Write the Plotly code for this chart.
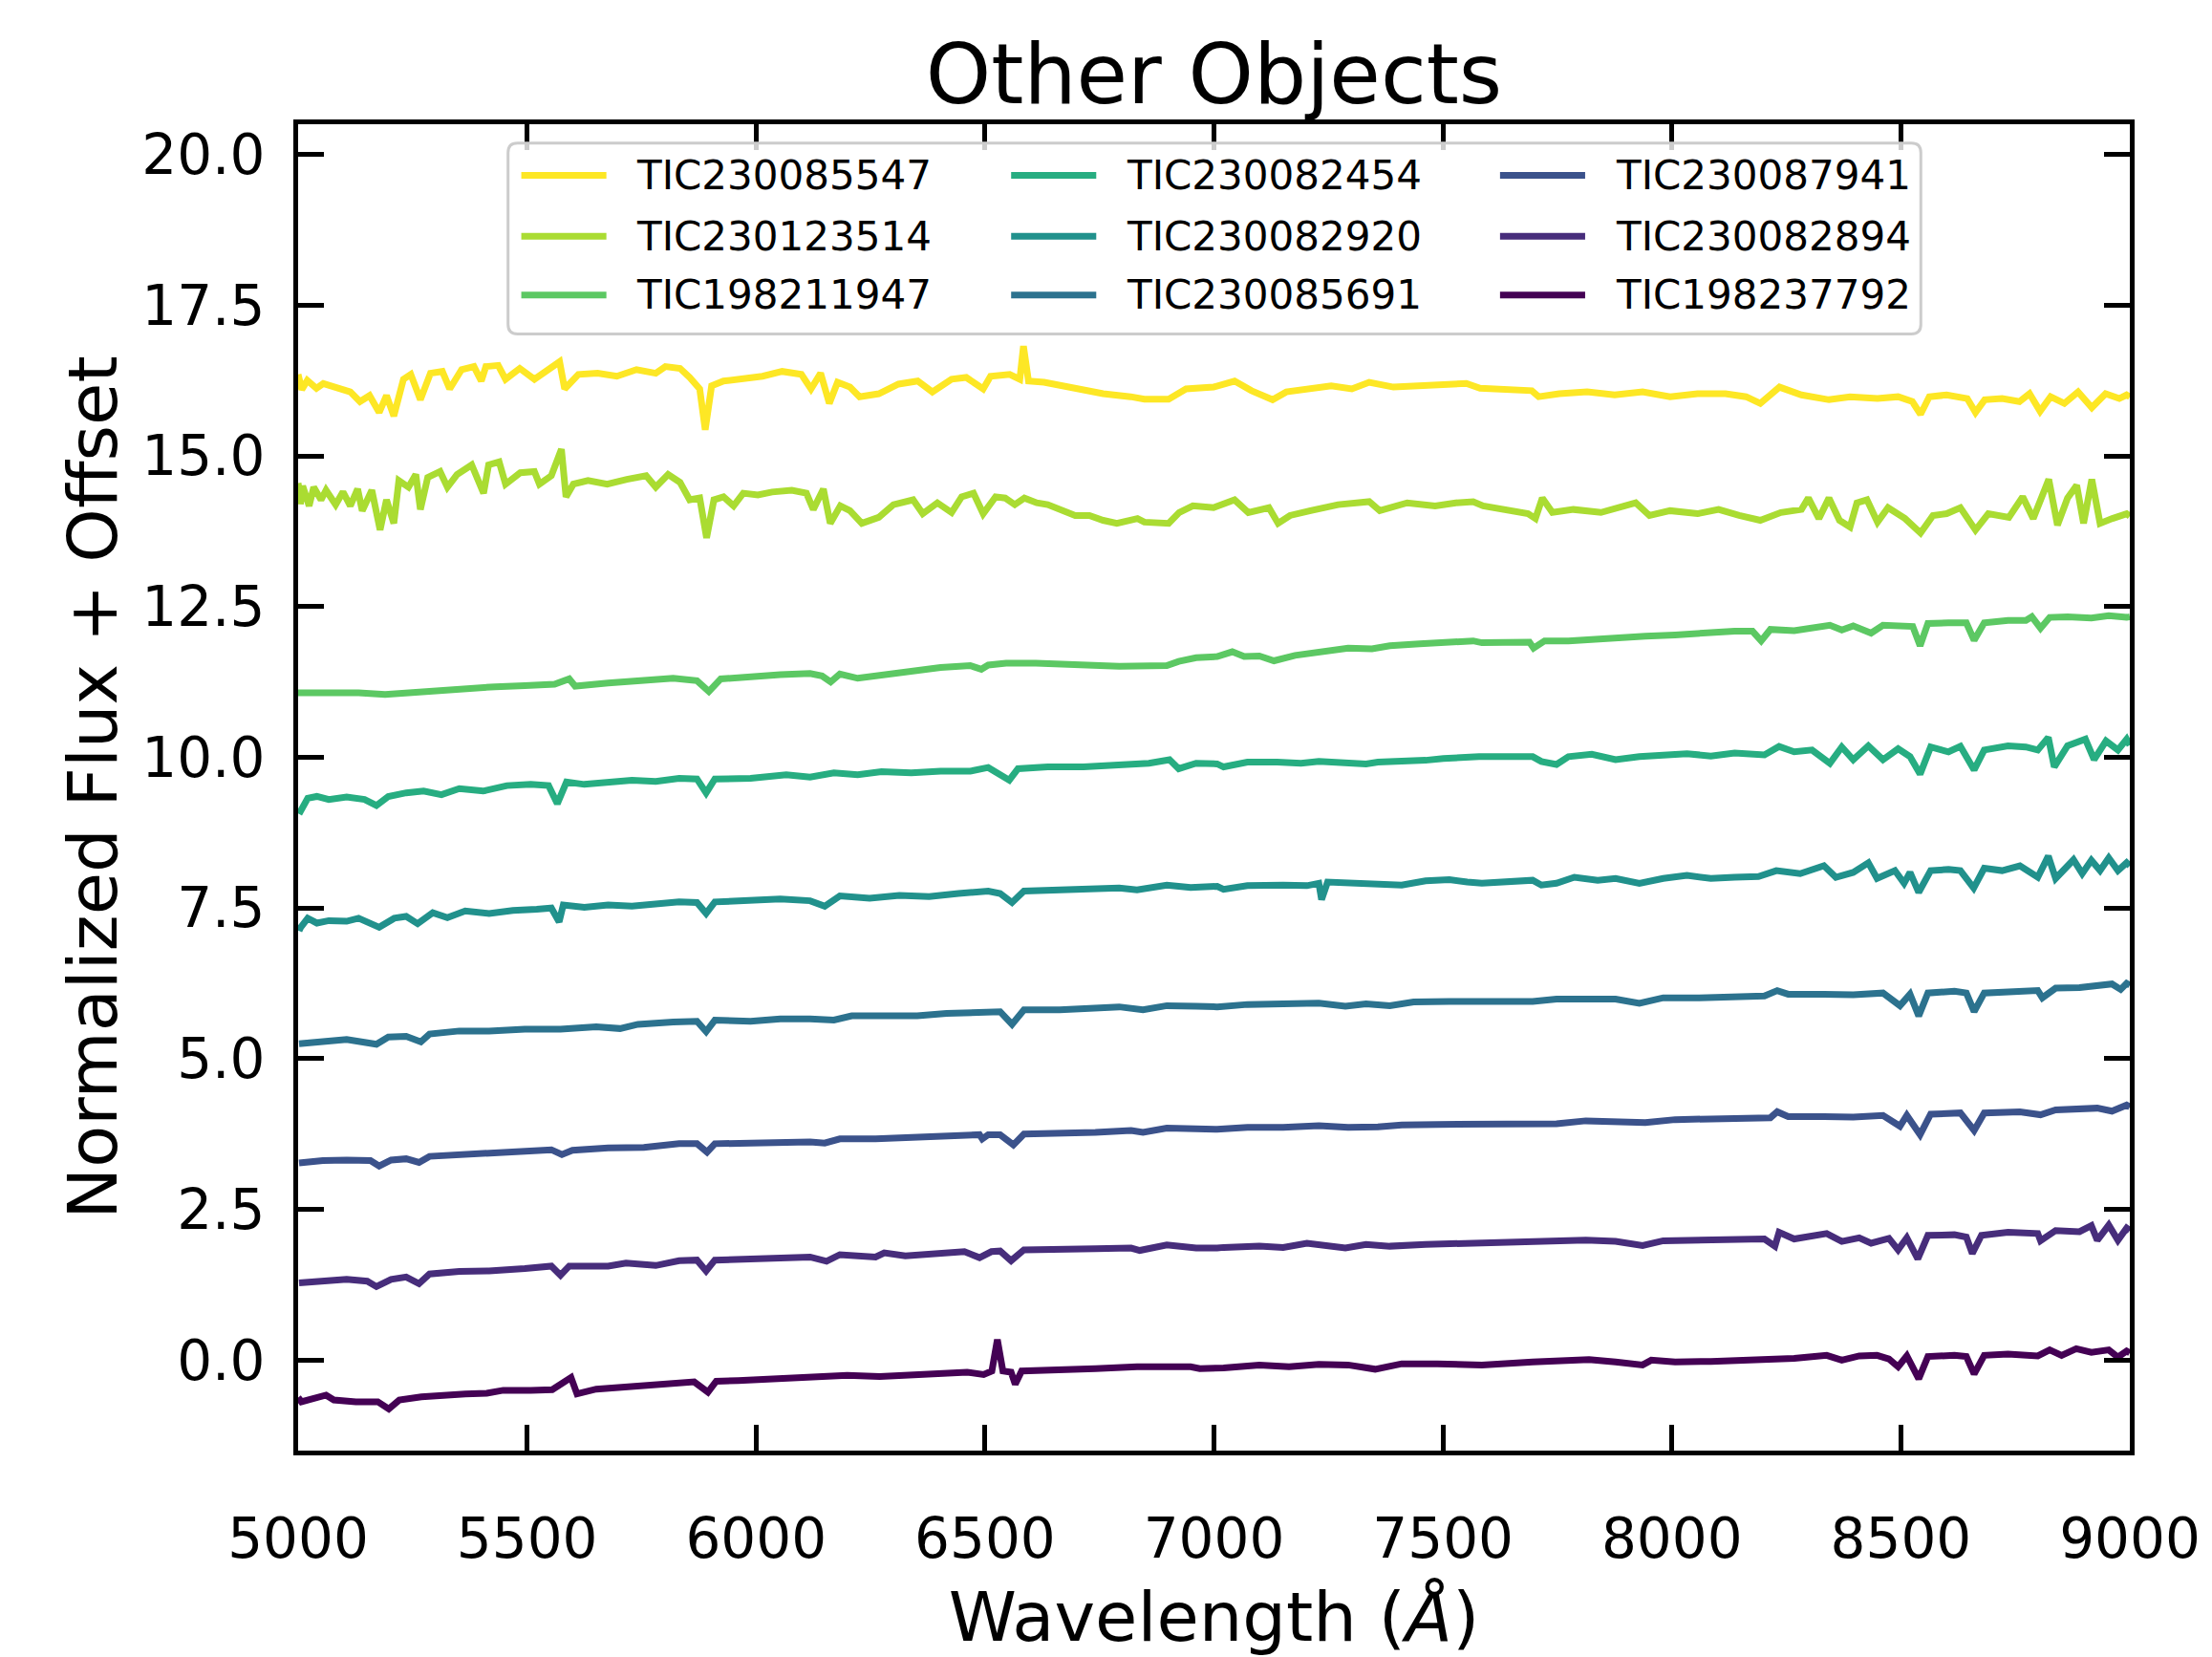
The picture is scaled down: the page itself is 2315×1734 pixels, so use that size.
import plotly.graph_objects as go

# ---------------------------------------------------------------- data
star_names = ["TIC230085547", "TIC230123514", "TIC198211947",
              "TIC230082454", "TIC230082920", "TIC230085691",
              "TIC230087941", "TIC230082894", "TIC198237792"]

line_colors = ["#fde725", "#aadc32", "#5cc863", "#27ad81", "#21918c",
               "#2c728e", "#3b528b", "#472d7b", "#440154"]

x_tick_vals = [5000, 5500, 6000, 6500, 7000, 7500, 8000, 8500, 9000]
x_tick_text = ["5000", "5500", "6000", "6500", "7000", "7500", "8000", "8500", "9000"]
y_tick_vals = [0.0, 2.5, 5.0, 7.5, 10.0, 12.5, 15.0, 17.5, 20.0]
y_tick_text = ["0.0", "2.5", "5.0", "7.5", "10.0", "12.5", "15.0", "17.5", "20.0"]

wave_230085547 = [5000, 5008, 5020, 5040, 5055, 5082, 5114, 5135, 5156, 5177, 5193, 5209, 5230, 5246, 5267, 5289,
                  5315, 5331, 5357, 5384, 5400, 5410, 5437, 5453, 5484, 5516, 5548, 5571, 5582, 5612, 5654, 5696,
                  5739, 5781, 5802, 5834, 5855, 5877, 5889, 5903, 5929, 5972, 6014, 6057, 6099, 6120, 6141, 6160,
                  6178, 6205, 6226, 6268, 6311, 6353, 6385, 6427, 6459, 6496, 6512, 6554, 6576, 6584, 6595, 6629,
                  6697, 6758, 6818, 6848, 6901, 6939, 6999, 7045, 7082, 7128, 7158, 7211, 7256, 7301, 7339, 7392,
                  7452, 7513, 7551, 7581, 7694, 7709, 7754, 7815, 7875, 7936, 7996, 8056, 8117, 8162, 8193, 8235,
                  8283, 8343, 8389, 8449, 8494, 8525, 8543, 8562, 8600, 8645, 8663, 8683, 8721, 8759, 8781, 8804,
                  8827, 8857, 8887, 8917, 8947, 8977, 8993, 9000]
flux_230085547 = [16.35, 16.10, 16.25, 16.12, 16.20, 16.14, 16.06, 15.90, 16.00, 15.72, 16.00, 15.66, 16.27, 16.35, 15.93, 16.37,
                  16.40, 16.11, 16.43, 16.48, 16.24, 16.48, 16.50, 16.27, 16.45, 16.27, 16.43, 16.56, 16.11, 16.35, 16.37, 16.32,
                  16.43, 16.37, 16.48, 16.45, 16.30, 16.11, 15.43, 16.16, 16.24, 16.27, 16.32, 16.40, 16.35, 16.11, 16.37, 15.87,
                  16.22, 16.14, 15.98, 16.03, 16.19, 16.24, 16.06, 16.27, 16.30, 16.11, 16.32, 16.35, 16.27, 16.82, 16.24, 16.22,
                  16.11, 16.03, 15.98, 15.94, 15.94, 16.11, 16.14, 16.24, 16.08, 15.93, 16.06, 16.11, 16.16, 16.11, 16.22, 16.14,
                  16.16, 16.16, 16.20, 16.12, 16.08, 15.98, 16.03, 16.06, 16.01, 16.06, 15.98, 16.03, 16.03, 15.98, 15.87, 16.14,
                  16.01, 15.93, 15.98, 15.95, 15.98, 15.90, 15.69, 15.98, 16.01, 15.95, 15.72, 15.93, 15.95, 15.90, 16.03, 15.74,
                  15.98, 15.87, 16.06, 15.80, 16.03, 15.95, 16.01, 15.98]

wave_230123514 = [5000, 5005, 5010, 5024, 5034, 5050, 5061, 5082, 5098, 5114, 5130, 5140, 5161, 5179, 5193, 5209,
                  5220, 5241, 5257, 5267, 5283, 5310, 5326, 5347, 5379, 5405, 5416, 5439, 5453, 5485, 5516, 5527,
                  5553, 5575, 5585, 5601, 5633, 5675, 5718, 5760, 5781, 5808, 5834, 5855, 5877, 5892, 5908, 5929,
                  5951, 5972, 6004, 6035, 6078, 6110, 6125, 6147, 6162, 6184, 6205, 6231, 6268, 6300, 6343, 6364,
                  6396, 6427, 6449, 6475, 6496, 6523, 6544, 6565, 6586, 6613, 6637, 6667, 6697, 6728, 6758, 6788,
                  6833, 6848, 6901, 6924, 6954, 6999, 7045, 7075, 7120, 7140, 7166, 7211, 7271, 7339, 7362, 7422,
                  7483, 7528, 7566, 7588, 7686, 7702, 7717, 7739, 7785, 7845, 7890, 7921, 7951, 7996, 8056, 8102,
                  8147, 8193, 8238, 8283, 8298, 8321, 8343, 8366, 8389, 8404, 8426, 8449, 8472, 8509, 8543, 8570,
                  8600, 8630, 8663, 8691, 8736, 8766, 8789, 8823, 8842, 8864, 8884, 8899, 8917, 8935, 8962, 8993,
                  9000]
flux_230123514 = [14.55, 14.20, 14.50, 14.17, 14.48, 14.27, 14.43, 14.19, 14.40, 14.17, 14.45, 14.09, 14.43, 13.77, 14.27, 13.88,
                  14.59, 14.48, 14.69, 14.11, 14.64, 14.74, 14.48, 14.69, 14.85, 14.38, 14.85, 14.90, 14.53, 14.72, 14.74, 14.53,
                  14.67, 15.11, 14.32, 14.53, 14.59, 14.53, 14.61, 14.67, 14.48, 14.69, 14.56, 14.27, 14.30, 13.64, 14.27, 14.32,
                  14.17, 14.38, 14.35, 14.40, 14.43, 14.38, 14.11, 14.45, 13.88, 14.17, 14.09, 13.88, 13.98, 14.19, 14.27, 14.04,
                  14.22, 14.06, 14.32, 14.38, 14.04, 14.32, 14.30, 14.19, 14.30, 14.22, 14.19, 14.11, 14.01, 14.01, 13.93, 13.88,
                  13.96, 13.90, 13.88, 14.06, 14.17, 14.14, 14.27, 14.06, 14.14, 13.88, 14.01, 14.09, 14.19, 14.24, 14.09, 14.22,
                  14.17, 14.22, 14.24, 14.17, 14.04, 13.96, 14.30, 14.06, 14.11, 14.06, 14.14, 14.22, 14.01, 14.09, 14.04, 14.11,
                  14.01, 13.93, 14.06, 14.11, 14.30, 13.96, 14.30, 13.93, 13.82, 14.22, 14.27, 13.90, 14.14, 13.96, 13.72, 14.01,
                  14.04, 14.14, 13.77, 14.04, 13.98, 14.32, 13.96, 14.61, 13.85, 14.30, 14.51, 13.88, 14.61, 13.88, 13.96, 14.04,
                  14.00]

wave_198211947 = [5000, 5008, 5080, 5132, 5190, 5236, 5287, 5365, 5430, 5495, 5560, 5592, 5605, 5677, 5755, 5819,
                  5871, 5897, 5923, 5988, 6053, 6118, 6144, 6163, 6183, 6222, 6261, 6326, 6403, 6468, 6492, 6507,
                  6546, 6611, 6689, 6728, 6793, 6897, 6923, 6961, 7007, 7040, 7066, 7099, 7131, 7177, 7229, 7293,
                  7345, 7384, 7449, 7501, 7566, 7585, 7689, 7698, 7722, 7774, 7825, 7877, 7942, 8007, 8072, 8137,
                  8176, 8195, 8215, 8267, 8345, 8371, 8396, 8435, 8461, 8507, 8526, 8542, 8559, 8604, 8643, 8660,
                  8682, 8734, 8773, 8786, 8805, 8825, 8864, 8916, 8954, 8993, 9000]
flux_198211947 = [11.07, 11.07, 11.07, 11.07, 11.04, 11.07, 11.10, 11.14, 11.17, 11.19, 11.21, 11.30, 11.18, 11.23, 11.27, 11.31,
                  11.27, 11.09, 11.30, 11.34, 11.37, 11.39, 11.35, 11.25, 11.38, 11.31, 11.35, 11.43, 11.49, 11.52, 11.46, 11.53,
                  11.56, 11.56, 11.53, 11.51, 11.51, 11.52, 11.59, 11.65, 11.67, 11.75, 11.67, 11.68, 11.60, 11.69, 11.75, 11.81,
                  11.80, 11.85, 11.88, 11.90, 11.93, 11.90, 11.91, 11.81, 11.93, 11.93, 11.96, 11.98, 12.01, 12.03, 12.07, 12.09,
                  12.09, 11.93, 12.12, 12.10, 12.19, 12.11, 12.18, 12.06, 12.19, 12.19, 12.17, 11.85, 12.22, 12.23, 12.23, 11.94,
                  12.23, 12.27, 12.27, 12.33, 12.14, 12.32, 12.33, 12.31, 12.35, 12.32, 12.33]

wave_230082454 = [5002, 5021, 5041, 5067, 5106, 5145, 5171, 5197, 5236, 5274, 5313, 5352, 5404, 5456, 5508, 5547,
                  5566, 5586, 5625, 5677, 5729, 5781, 5832, 5871, 5891, 5910, 5988, 6066, 6118, 6170, 6222, 6274,
                  6339, 6403, 6468, 6507, 6553, 6572, 6637, 6715, 6793, 6858, 6903, 6923, 6961, 7007, 7021, 7073,
                  7138, 7190, 7229, 7280, 7332, 7358, 7410, 7462, 7501, 7540, 7579, 7696, 7715, 7748, 7774, 7825,
                  7877, 7929, 7981, 8033, 8085, 8137, 8202, 8234, 8267, 8306, 8345, 8371, 8396, 8429, 8461, 8494,
                  8520, 8542, 8565, 8604, 8630, 8660, 8682, 8734, 8773, 8799, 8822, 8835, 8864, 8903, 8922, 8948,
                  8974, 8993, 9000]
flux_230082454 = [9.06, 9.32, 9.35, 9.30, 9.34, 9.30, 9.20, 9.35, 9.41, 9.44, 9.38, 9.48, 9.44, 9.53, 9.55, 9.53,
                  9.23, 9.59, 9.55, 9.59, 9.62, 9.60, 9.65, 9.64, 9.41, 9.64, 9.65, 9.71, 9.67, 9.74, 9.71, 9.76,
                  9.74, 9.77, 9.77, 9.83, 9.62, 9.81, 9.84, 9.84, 9.88, 9.90, 9.96, 9.81, 9.90, 9.89, 9.84, 9.92,
                  9.92, 9.90, 9.93, 9.92, 9.89, 9.92, 9.93, 9.95, 9.98, 10.00, 10.01, 10.01, 9.93, 9.88, 10.01, 10.05,
                  9.96, 10.01, 10.04, 10.06, 10.02, 10.07, 10.04, 10.18, 10.09, 10.12, 9.90, 10.17, 9.96, 10.19, 9.96, 10.14,
                  10.01, 9.72, 10.17, 10.09, 10.18, 9.79, 10.12, 10.19, 10.17, 10.12, 10.33, 9.84, 10.19, 10.30, 9.96, 10.27,
                  10.12, 10.30, 10.20]

wave_230082920 = [5002, 5005, 5021, 5041, 5067, 5106, 5132, 5177, 5210, 5236, 5261, 5294, 5326, 5365, 5417, 5469,
                  5521, 5553, 5570, 5579, 5625, 5677, 5729, 5781, 5832, 5871, 5891, 5910, 5988, 6053, 6118, 6150,
                  6183, 6248, 6313, 6378, 6442, 6507, 6533, 6559, 6585, 6663, 6728, 6793, 6832, 6897, 6949, 7007,
                  7021, 7073, 7151, 7203, 7229, 7235, 7248, 7306, 7358, 7410, 7462, 7514, 7553, 7585, 7696, 7715,
                  7748, 7787, 7838, 7877, 7929, 7981, 8033, 8085, 8137, 8189, 8228, 8280, 8332, 8358, 8396, 8429,
                  8448, 8487, 8507, 8520, 8539, 8565, 8604, 8630, 8659, 8682, 8721, 8760, 8799, 8822, 8838, 8877,
                  8896, 8916, 8935, 8954, 8974, 8993, 9000]
flux_230082920 = [7.12, 7.17, 7.33, 7.25, 7.29, 7.28, 7.33, 7.18, 7.33, 7.36, 7.24, 7.42, 7.34, 7.45, 7.41, 7.46,
                  7.48, 7.50, 7.27, 7.55, 7.51, 7.55, 7.53, 7.57, 7.60, 7.59, 7.41, 7.60, 7.62, 7.65, 7.62, 7.53,
                  7.70, 7.66, 7.71, 7.69, 7.74, 7.78, 7.74, 7.59, 7.78, 7.79, 7.81, 7.83, 7.80, 7.88, 7.84, 7.86,
                  7.81, 7.87, 7.88, 7.87, 7.91, 7.64, 7.93, 7.91, 7.90, 7.88, 7.95, 7.97, 7.93, 7.91, 7.96, 7.88,
                  7.91, 8.01, 7.96, 7.99, 7.91, 7.99, 8.04, 7.99, 8.01, 8.02, 8.12, 8.07, 8.20, 8.01, 8.09, 8.25,
                  7.99, 8.12, 7.91, 8.09, 7.76, 8.12, 8.14, 8.12, 7.83, 8.16, 8.12, 8.20, 8.01, 8.36, 7.99, 8.30,
                  8.07, 8.29, 8.12, 8.33, 8.12, 8.25, 8.20]

wave_230085691 = [5002, 5054, 5106, 5171, 5197, 5236, 5268, 5287, 5352, 5417, 5495, 5573, 5651, 5703, 5742, 5819,
                  5871, 5891, 5910, 5988, 6053, 6118, 6170, 6209, 6274, 6352, 6416, 6481, 6533, 6559, 6585, 6663,
                  6728, 6793, 6845, 6897, 6961, 7007, 7073, 7151, 7229, 7287, 7332, 7384, 7436, 7514, 7585, 7696,
                  7748, 7812, 7877, 7929, 7981, 8059, 8137, 8202, 8230, 8254, 8332, 8396, 8461, 8498, 8520, 8539,
                  8559, 8617, 8643, 8660, 8682, 8747, 8799, 8809, 8838, 8890, 8929, 8961, 8980, 8993, 9000]
flux_230085691 = [5.25, 5.29, 5.32, 5.24, 5.36, 5.37, 5.28, 5.41, 5.46, 5.46, 5.49, 5.49, 5.53, 5.50, 5.57, 5.61,
                  5.62, 5.45, 5.64, 5.62, 5.66, 5.66, 5.64, 5.71, 5.70, 5.71, 5.75, 5.76, 5.78, 5.57, 5.81, 5.81,
                  5.83, 5.86, 5.81, 5.88, 5.87, 5.86, 5.90, 5.90, 5.92, 5.87, 5.91, 5.88, 5.94, 5.95, 5.95, 5.95,
                  5.99, 5.99, 5.99, 5.92, 6.01, 6.01, 6.03, 6.04, 6.13, 6.07, 6.07, 6.06, 6.09, 5.88, 6.07, 5.71,
                  6.09, 6.12, 6.09, 5.78, 6.09, 6.12, 6.13, 6.01, 6.17, 6.18, 6.20, 6.24, 6.15, 6.25, 6.22]

wave_230087941 = [5002, 5054, 5106, 5158, 5177, 5203, 5236, 5264, 5287, 5352, 5417, 5495, 5553, 5576, 5599, 5677,
                  5755, 5832, 5871, 5893, 5910, 5988, 6053, 6118, 6150, 6183, 6261, 6339, 6416, 6488, 6494, 6507,
                  6533, 6562, 6585, 6663, 6741, 6819, 6845, 6897, 6961, 7007, 7073, 7151, 7229, 7293, 7358, 7410,
                  7488, 7585, 7696, 7748, 7812, 7877, 7942, 8007, 8085, 8163, 8215, 8230, 8254, 8332, 8396, 8461,
                  8498, 8513, 8542, 8565, 8630, 8660, 8682, 8760, 8805, 8838, 8890, 8929, 8961, 8993, 9000]
flux_230087941 = [3.27, 3.31, 3.32, 3.31, 3.22, 3.32, 3.34, 3.28, 3.38, 3.41, 3.44, 3.46, 3.49, 3.41, 3.48, 3.52,
                  3.53, 3.59, 3.59, 3.45, 3.59, 3.60, 3.62, 3.62, 3.60, 3.67, 3.67, 3.69, 3.71, 3.74, 3.67, 3.74,
                  3.74, 3.57, 3.75, 3.76, 3.78, 3.81, 3.78, 3.85, 3.83, 3.83, 3.86, 3.86, 3.89, 3.86, 3.87, 3.90,
                  3.91, 3.92, 3.94, 3.92, 3.97, 3.96, 3.94, 3.99, 4.01, 4.03, 4.02, 4.12, 4.04, 4.04, 4.03, 4.06,
                  3.88, 4.06, 3.74, 4.08, 4.10, 3.81, 4.10, 4.12, 4.07, 4.15, 4.16, 4.18, 4.13, 4.23, 4.20]

wave_230082894 = [5002, 5054, 5106, 5151, 5171, 5203, 5236, 5264, 5287, 5352, 5417, 5495, 5553, 5573, 5592, 5677,
                  5716, 5781, 5832, 5871, 5891, 5910, 5988, 6040, 6118, 6154, 6183, 6261, 6280, 6326, 6390, 6455,
                  6488, 6514, 6533, 6557, 6585, 6663, 6741, 6819, 6838, 6897, 6961, 7007, 7021, 7099, 7151, 7203,
                  7287, 7332, 7384, 7462, 7585, 7696, 7748, 7812, 7877, 7936, 7981, 8059, 8137, 8202, 8225, 8234,
                  8267, 8338, 8371, 8409, 8435, 8474, 8494, 8513, 8537, 8559, 8617, 8643, 8656, 8676, 8734, 8799,
                  8805, 8838, 8890, 8916, 8929, 8954, 8974, 8993, 9000]
flux_230082894 = [1.28, 1.32, 1.34, 1.31, 1.22, 1.34, 1.38, 1.27, 1.43, 1.47, 1.48, 1.52, 1.56, 1.41, 1.56, 1.56,
                  1.61, 1.57, 1.65, 1.66, 1.48, 1.66, 1.68, 1.71, 1.71, 1.64, 1.75, 1.71, 1.78, 1.73, 1.77, 1.80,
                  1.70, 1.80, 1.81, 1.65, 1.83, 1.83, 1.85, 1.86, 1.82, 1.91, 1.86, 1.86, 1.87, 1.89, 1.87, 1.94,
                  1.86, 1.92, 1.89, 1.92, 1.94, 1.98, 1.98, 1.99, 1.97, 1.90, 1.98, 1.99, 1.98, 2.01, 1.89, 2.12,
                  2.01, 2.10, 1.97, 2.03, 1.94, 2.02, 1.83, 2.03, 1.68, 2.07, 2.08, 2.04, 1.77, 2.07, 2.12, 2.10,
                  1.98, 2.15, 2.13, 2.23, 1.99, 2.24, 1.99, 2.19, 2.15]

wave_198237792 = [5000, 5007, 5061, 5078, 5126, 5174, 5198, 5221, 5269, 5317, 5365, 5412, 5448, 5508, 5555, 5596,
                  5609, 5651, 5722, 5770, 5817, 5865, 5895, 5913, 5961, 6020, 6080, 6139, 6199, 6270, 6342, 6413,
                  6461, 6497, 6515, 6527, 6539, 6557, 6566, 6580, 6628, 6663, 6741, 6832, 6897, 6949, 6969, 7021,
                  7099, 7164, 7229, 7293, 7352, 7410, 7488, 7585, 7696, 7748, 7819, 7877, 7936, 7955, 8007, 8085,
                  8163, 8215, 8267, 8338, 8371, 8409, 8448, 8474, 8494, 8513, 8539, 8559, 8617, 8643, 8660, 8682,
                  8734, 8799, 8825, 8851, 8883, 8916, 8954, 8974, 8993, 9000]
flux_198237792 = [-0.62, -0.69, -0.58, -0.66, -0.69, -0.69, -0.81, -0.66, -0.61, -0.58, -0.56, -0.55, -0.50, -0.50, -0.49, -0.29,
                  -0.56, -0.48, -0.44, -0.40, -0.37, -0.36, -0.53, -0.35, -0.34, -0.32, -0.29, -0.29, -0.25, -0.27, -0.24, -0.22,
                  -0.20, -0.24, -0.18, 0.34, -0.18, -0.20, -0.40, -0.18, -0.16, -0.16, -0.14, -0.11, -0.11, -0.11, -0.14, -0.13,
                  -0.08, -0.11, -0.07, -0.08, -0.15, -0.06, -0.06, -0.08, -0.03, -0.02, 0.01, -0.03, -0.08, 0.00, -0.03, -0.02,
                  0.00, 0.02, 0.03, 0.08, 0.00, 0.07, 0.08, 0.02, -0.11, 0.07, -0.31, 0.06, 0.08, 0.06, -0.23, 0.08,
                  0.10, 0.07, 0.17, 0.08, 0.19, 0.13, 0.17, 0.05, 0.15, 0.12]

spectra = [
    (wave_230085547, flux_230085547),
    (wave_230123514, flux_230123514),
    (wave_198211947, flux_198211947),
    (wave_230082454, flux_230082454),
    (wave_230082920, flux_230082920),
    (wave_230085691, flux_230085691),
    (wave_230087941, flux_230087941),
    (wave_230082894, flux_230082894),
    (wave_198237792, flux_198237792),
]

# ---------------------------------------------------------------- figure
W, H = 2315, 1734
PLOT_L, PLOT_R, PLOT_T, PLOT_B = 312, 2249, 130, 1528
FONT = "DejaVu Sans"
LINE_W = 7

fig = go.Figure()
for name, color, (wave, flux) in zip(star_names, line_colors, spectra):
    fig.add_trace(go.Scatter(x=wave, y=flux, mode="lines", name=name,
                             line=dict(color=color, width=LINE_W),
                             showlegend=False))

axis_common = dict(
    showline=True, linewidth=5, linecolor="black", mirror="ticks",
    ticks="inside", ticklen=27, tickwidth=4.5, tickcolor="black",
    showgrid=False, zeroline=False, ticklabeloverflow="allow",
    tickfont=dict(family=FONT, size=58, color="black"),
)

fig.update_xaxes(range=[5000, 9000], tickmode="array",
                 tickvals=x_tick_vals, ticktext=x_tick_text,
                 ticklabelstandoff=37,
                 title=dict(text="Wavelength (<i>Å</i>)",
                            font=dict(family=FONT, size=72, color="black"),
                            standoff=28),
                 **axis_common)
fig.update_yaxes(range=[-1.5, 20.5], tickmode="array",
                 tickvals=y_tick_vals, ticktext=y_tick_text,
                 ticklabelstandoff=18,
                 title=dict(text="Normalized Flux + Offset",
                            font=dict(family=FONT, size=72, color="black"),
                            standoff=4),
                 **axis_common)


# ---------------------------------------------------------------- legend box
def px_x(px):
    return (px - PLOT_L) / (PLOT_R - PLOT_L)


def px_y(py):
    return (PLOT_B - py) / (PLOT_B - PLOT_T)


box_l, box_r, box_t, box_b = 534, 2028, 150, 351
rad = 10
rx, ry = rad / (PLOT_R - PLOT_L), rad / (PLOT_B - PLOT_T)
x0, x1, y0, y1 = px_x(box_l), px_x(box_r), px_y(box_b), px_y(box_t)
frame_path = (f"M {x0 + rx},{y0} L {x1 - rx},{y0} Q {x1},{y0} {x1},{y0 + ry} "
              f"L {x1},{y1 - ry} Q {x1},{y1} {x1 - rx},{y1} "
              f"L {x0 + rx},{y1} Q {x0},{y1} {x0},{y1 - ry} "
              f"L {x0},{y0 + ry} Q {x0},{y0} {x0 + rx},{y0} Z")

shapes = [dict(type="path", path=frame_path, xref="paper", yref="paper",
               line=dict(color="rgba(204,204,204,1)", width=3),
               fillcolor="rgba(255,255,255,0.8)", layer="above")]
annotations = []

col_handle_x = [548, 1066, 1583]
handle_len = 90
text_gap = 30
row_y = [184, 248, 310]
for i, (name, color) in enumerate(zip(star_names, line_colors)):
    col, row = divmod(i, 3)
    hx0 = col_handle_x[col]
    yy = px_y(row_y[row])
    shapes.append(dict(type="line", xref="paper", yref="paper",
                       x0=px_x(hx0), x1=px_x(hx0 + handle_len), y0=yy, y1=yy,
                       line=dict(color=color, width=LINE_W), layer="above"))
    annotations.append(dict(text=name, xref="paper", yref="paper",
                            x=px_x(hx0 + handle_len + text_gap), y=yy,
                            xanchor="left", yanchor="middle", showarrow=False,
                            font=dict(family=FONT, size=42, color="black")))

fig.update_layout(
    width=W, height=H,
    margin=dict(l=PLOT_L, r=W - PLOT_R, t=PLOT_T, b=H - PLOT_B, pad=0),
    paper_bgcolor="white", plot_bgcolor="white",
    showlegend=False,
    font=dict(family=FONT, color="black"),
    title=dict(text="Other Objects", xref="paper", x=0.5, xanchor="center",
               yref="container", y=1 - 78 / H, yanchor="middle",
               font=dict(family=FONT, size=87, color="black")),
    shapes=shapes,
    annotations=annotations,
)

fig.write_html("out.html")
